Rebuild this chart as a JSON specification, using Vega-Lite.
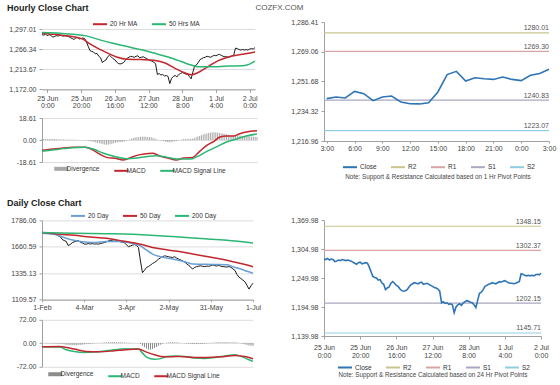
{
"$schema": "https://vega.github.io/schema/vega-lite/v6.json",
"padding": {"left": 3, "top": 4, "right": 2, "bottom": 0},
"background": "white",
"title": {"text": "COZFX.COM", "anchor": "middle", "offset": -8, "fontSize": 8, "fontWeight": "normal", "color": "#555"},
"config": {
  "font": "Liberation Sans",
  "view": {"stroke": null},
  "axis": {"labelFontSize": 7, "labelColor": "#444", "domainColor": "#a0a0a0", "tickColor": "#a0a0a0", "gridColor": "#dcdcdc", "tickSize": 3, "labelPadding": 2, "labelOverlap": false, "tickCount": 20},
  "legend": {"labelFontSize": 6.5, "labelColor": "#333", "symbolType": "stroke", "symbolSize": 196, "symbolStrokeWidth": 2, "columnPadding": 10, "labelOffset": 2, "orient": "none", "direction": "horizontal", "padding": 0}
},
"resolve": {"scale": {"color": "independent"}, "legend": {"color": "independent"}},
"datasets": {
"hourly": [
{"i":0,"c":1286,"d":0.9},{"i":1,"c":1285,"d":0.9},{"i":2,"c":1287,"d":0.9},{"i":3,"c":1284,"d":0.8},{"i":4,"c":1286,"d":0.9},{"i":5,"c":1285,"d":0.9},{"i":6,"c":1281,"d":0.9},{"i":7,"c":1282,"d":0.8},{"i":8,"c":1284,"d":0.7},{"i":9,"c":1283,"d":0.6},
{"i":10,"c":1285,"d":0.6},{"i":11,"c":1284,"d":0.5},{"i":12,"c":1283,"d":0.5},{"i":13,"c":1284,"d":0.4},{"i":14,"c":1283,"d":0.4},{"i":15,"c":1282,"d":0.3},{"i":16,"c":1280,"d":0.3},{"i":17,"c":1278,"d":0.3},{"i":18,"c":1276,"d":0.2},{"i":19,"c":1279,"d":0.2},
{"i":20,"c":1280,"d":0.1},{"i":21,"c":1277,"d":0.1},{"i":22,"c":1278,"d":0},{"i":23,"c":1279,"d":0},{"i":24,"c":1278,"d":0},{"i":25,"c":1271,"d":-0.3},{"i":26,"c":1262,"d":-0.7},{"i":27,"c":1253,"d":-1.0},{"i":28,"c":1251,"d":-1.3},{"i":29,"c":1250,"d":-1.7},
{"i":30,"c":1246,"d":-2.1},{"i":31,"c":1247,"d":-2.5},{"i":32,"c":1241,"d":-2.8},{"i":33,"c":1238,"d":-3.1},{"i":34,"c":1228,"d":-3.5},{"i":35,"c":1231,"d":-3.8},{"i":36,"c":1233,"d":-4.0},{"i":37,"c":1240,"d":-3.9},{"i":38,"c":1243,"d":-3.6},{"i":39,"c":1240,"d":-3.2},
{"i":40,"c":1236,"d":-2.8},{"i":41,"c":1234,"d":-2.4},{"i":42,"c":1229,"d":-2.1},{"i":43,"c":1226,"d":-1.9},{"i":44,"c":1225,"d":-1.8},{"i":45,"c":1226,"d":-1.6},{"i":46,"c":1228,"d":-1.2},{"i":47,"c":1233,"d":-0.6},{"i":48,"c":1237,"d":0},{"i":49,"c":1239,"d":0.6},
{"i":50,"c":1241,"d":1.2},{"i":51,"c":1240,"d":1.7},{"i":52,"c":1239,"d":2.1},{"i":53,"c":1241,"d":2.3},{"i":54,"c":1242,"d":2.5},{"i":55,"c":1238,"d":2.7},{"i":56,"c":1239,"d":2.8},{"i":57,"c":1240,"d":2.8},{"i":58,"c":1238,"d":2.7},{"i":59,"c":1236,"d":2.6},
{"i":60,"c":1234,"d":2.4},{"i":61,"c":1232,"d":2.2},{"i":62,"c":1231,"d":1.8},{"i":63,"c":1229,"d":1.2},{"i":64,"c":1225,"d":0.6},{"i":65,"c":1203,"d":0.1},{"i":66,"c":1205,"d":-0.3},{"i":67,"c":1202,"d":-0.6},{"i":68,"c":1203,"d":-1.0},{"i":69,"c":1200,"d":-1.4},
{"i":70,"c":1201,"d":-1.7},{"i":71,"c":1199,"d":-1.9},{"i":72,"c":1184,"d":-1.8},{"i":73,"c":1195,"d":-1.5},{"i":74,"c":1199,"d":-1.1},{"i":75,"c":1201,"d":-0.8},{"i":76,"c":1198,"d":-0.4},{"i":77,"c":1203,"d":0},{"i":78,"c":1205,"d":0.4},{"i":79,"c":1207,"d":0.8},
{"i":80,"c":1206,"d":0.9},{"i":81,"c":1204,"d":1.0},{"i":82,"c":1203,"d":1.0},{"i":83,"c":1199,"d":1.1},{"i":84,"c":1194,"d":1.1},{"i":85,"c":1208,"d":1.6},{"i":86,"c":1221,"d":2.3},{"i":87,"c":1223,"d":3.0},{"i":88,"c":1228,"d":3.5},{"i":89,"c":1234,"d":4.1},
{"i":90,"c":1236,"d":4.7},{"i":91,"c":1238,"d":5.2},{"i":92,"c":1239,"d":5.6},{"i":93,"c":1241,"d":5.9},{"i":94,"c":1240,"d":6.2},{"i":95,"c":1239,"d":6.4},{"i":96,"c":1241,"d":6.5},{"i":97,"c":1243,"d":6.4},{"i":98,"c":1242,"d":6.2},{"i":99,"c":1244,"d":6.0},
{"i":100,"c":1245,"d":5.7},{"i":101,"c":1243,"d":5.4},{"i":102,"c":1241,"d":5.1},{"i":103,"c":1240,"d":4.8},{"i":104,"c":1240,"d":4.4},{"i":105,"c":1239,"d":4.0},{"i":106,"c":1240,"d":3.6},{"i":107,"c":1242,"d":3.5},{"i":108,"c":1243,"d":3.6},{"i":109,"c":1258,"d":3.8},
{"i":110,"c":1257,"d":3.9},{"i":111,"c":1255,"d":3.7},{"i":112,"c":1254,"d":3.5},{"i":113,"c":1255,"d":3.4},{"i":114,"c":1254,"d":3.3},{"i":115,"c":1255,"d":3.2},{"i":116,"c":1254,"d":3.0},{"i":117,"c":1256,"d":2.9},{"i":118,"c":1257,"d":2.8},{"i":119,"c":1256,"d":2.7},
{"i":120,"c":1259,"d":2.6}
],
"hma": [
{"i":0,"s":"20 Hr MA","v":1288.2},{"i":10,"s":"20 Hr MA","v":1285.5},{"i":18,"s":"20 Hr MA","v":1281.5},{"i":23,"s":"20 Hr MA","v":1276.7},{"i":27,"s":"20 Hr MA","v":1266.6},{"i":32,"s":"20 Hr MA","v":1256.5},{"i":37,"s":"20 Hr MA","v":1247.7},{"i":42,"s":"20 Hr MA","v":1239.6},{"i":48,"s":"20 Hr MA","v":1234.8},{"i":56,"s":"20 Hr MA","v":1234.2},{"i":63,"s":"20 Hr MA","v":1232.8},{"i":69,"s":"20 Hr MA","v":1227.4},{"i":75,"s":"20 Hr MA","v":1215.9},{"i":80,"s":"20 Hr MA","v":1207.1},{"i":84,"s":"20 Hr MA","v":1202.4},{"i":88,"s":"20 Hr MA","v":1207.1},{"i":94,"s":"20 Hr MA","v":1220.6},{"i":99,"s":"20 Hr MA","v":1231.5},{"i":105,"s":"20 Hr MA","v":1239.6},{"i":113,"s":"20 Hr MA","v":1245.0},{"i":120,"s":"20 Hr MA","v":1249.7},
{"i":0,"s":"50 Hrs MA","v":1290.3},{"i":10,"s":"50 Hrs MA","v":1288.9},{"i":18,"s":"50 Hrs MA","v":1286.9},{"i":25,"s":"50 Hrs MA","v":1283.5},{"i":33,"s":"50 Hrs MA","v":1274.7},{"i":40,"s":"50 Hrs MA","v":1268.0},{"i":48,"s":"50 Hrs MA","v":1261.2},{"i":56,"s":"50 Hrs MA","v":1254.4},{"i":63,"s":"50 Hrs MA","v":1247.7},{"i":71,"s":"50 Hrs MA","v":1239.6},{"i":78,"s":"50 Hrs MA","v":1230.8},{"i":84,"s":"50 Hrs MA","v":1222.7},{"i":88,"s":"50 Hrs MA","v":1219.3},{"i":94,"s":"50 Hrs MA","v":1219.3},{"i":99,"s":"50 Hrs MA","v":1219.3},{"i":105,"s":"50 Hrs MA","v":1220.6},{"i":113,"s":"50 Hrs MA","v":1221.3},{"i":117,"s":"50 Hrs MA","v":1224.7},{"i":120,"s":"50 Hrs MA","v":1230.8}
],
"hmacd": [
{"i":0,"s":"MACD","v":-8.7},{"i":6,"s":"MACD","v":-7.6},{"i":12,"s":"MACD","v":-6.8},{"i":17,"s":"MACD","v":-6.2},{"i":24,"s":"MACD","v":-6.2},{"i":29,"s":"MACD","v":-9.0},{"i":32,"s":"MACD","v":-11.8},{"i":36,"s":"MACD","v":-14.7},{"i":42,"s":"MACD","v":-15.8},{"i":45,"s":"MACD","v":-16.9},{"i":49,"s":"MACD","v":-15.2},{"i":53,"s":"MACD","v":-13.0},{"i":57,"s":"MACD","v":-11.8},{"i":62,"s":"MACD","v":-11.3},{"i":66,"s":"MACD","v":-13.8},{"i":70,"s":"MACD","v":-15.2},{"i":75,"s":"MACD","v":-16.9},{"i":79,"s":"MACD","v":-15.2},{"i":84,"s":"MACD","v":-14.7},{"i":88,"s":"MACD","v":-9.6},{"i":92,"s":"MACD","v":-4.5},{"i":96,"s":"MACD","v":-1.1},{"i":99,"s":"MACD","v":2.3},{"i":103,"s":"MACD","v":3.4},{"i":107,"s":"MACD","v":3.4},{"i":110,"s":"MACD","v":5.1},{"i":114,"s":"MACD","v":6.8},{"i":120,"s":"MACD","v":7.9},
{"i":0,"s":"MACD Signal Line","v":-9.6},{"i":6,"s":"MACD Signal Line","v":-8.5},{"i":12,"s":"MACD Signal Line","v":-7.3},{"i":17,"s":"MACD Signal Line","v":-6.5},{"i":24,"s":"MACD Signal Line","v":-6.2},{"i":29,"s":"MACD Signal Line","v":-7.9},{"i":34,"s":"MACD Signal Line","v":-11.0},{"i":40,"s":"MACD Signal Line","v":-13.8},{"i":47,"s":"MACD Signal Line","v":-15.8},{"i":53,"s":"MACD Signal Line","v":-15.2},{"i":58,"s":"MACD Signal Line","v":-14.1},{"i":64,"s":"MACD Signal Line","v":-13.3},{"i":70,"s":"MACD Signal Line","v":-14.7},{"i":75,"s":"MACD Signal Line","v":-16.1},{"i":81,"s":"MACD Signal Line","v":-16.1},{"i":84,"s":"MACD Signal Line","v":-15.8},{"i":88,"s":"MACD Signal Line","v":-13.0},{"i":92,"s":"MACD Signal Line","v":-9.6},{"i":98,"s":"MACD Signal Line","v":-5.4},{"i":103,"s":"MACD Signal Line","v":-1.7},{"i":109,"s":"MACD Signal Line","v":1.1},{"i":114,"s":"MACD Signal Line","v":3.4},{"i":120,"s":"MACD Signal Line","v":5.1}
],
"daily": [
{"i":0,"c":1676,"d":-0.3},{"i":1,"c":1678,"d":-0.5},{"i":2,"c":1675,"d":-0.6},{"i":3,"c":1677,"d":-0.8},{"i":4,"c":1673,"d":-1},{"i":5,"c":1672,"d":-1.2},{"i":6,"c":1668,"d":-1.5},{"i":7,"c":1666,"d":-1.8},{"i":8,"c":1655,"d":-2},{"i":9,"c":1648,"d":-2.2},
{"i":10,"c":1625,"d":-3},{"i":11,"c":1614,"d":-4},{"i":12,"c":1608,"d":-5},{"i":13,"c":1572,"d":-5.5},{"i":14,"c":1580,"d":-6},{"i":15,"c":1595,"d":-6.5},{"i":16,"c":1603,"d":-6.8},{"i":17,"c":1608,"d":-6.5},{"i":18,"c":1616,"d":-6},{"i":19,"c":1600,"d":-5.5},
{"i":20,"c":1594,"d":-5},{"i":21,"c":1585,"d":-4},{"i":22,"c":1583,"d":-3},{"i":23,"c":1588,"d":-2.5},{"i":24,"c":1585,"d":-2},{"i":25,"c":1588,"d":-1.5},{"i":26,"c":1584,"d":-1},{"i":27,"c":1586,"d":-0.5},{"i":28,"c":1583,"d":0},{"i":29,"c":1588,"d":0.5},
{"i":30,"c":1592,"d":1},{"i":31,"c":1597,"d":1.5},{"i":32,"c":1603,"d":2},{"i":33,"c":1610,"d":2.5},{"i":34,"c":1616,"d":2.8},{"i":35,"c":1612,"d":3},{"i":36,"c":1608,"d":3},{"i":37,"c":1612,"d":2.8},{"i":38,"c":1608,"d":2.5},{"i":39,"c":1604,"d":2.2},
{"i":40,"c":1600,"d":2},{"i":41,"c":1596,"d":1.5},{"i":42,"c":1578,"d":1.2},{"i":43,"c":1562,"d":1},{"i":44,"c":1568,"d":0.6},{"i":45,"c":1574,"d":0.3},{"i":46,"c":1580,"d":0},{"i":47,"c":1573,"d":0},{"i":48,"c":1555,"d":0},{"i":49,"c":1440,"d":-3},
{"i":50,"c":1340,"d":-8},{"i":51,"c":1360,"d":-13},{"i":52,"c":1385,"d":-17},{"i":53,"c":1392,"d":-20},{"i":54,"c":1405,"d":-20},{"i":55,"c":1418,"d":-18},{"i":56,"c":1428,"d":-15},{"i":57,"c":1440,"d":-12},{"i":58,"c":1456,"d":-8},{"i":59,"c":1466,"d":-5},
{"i":60,"c":1476,"d":-2},{"i":61,"c":1484,"d":0},{"i":62,"c":1480,"d":1},{"i":63,"c":1476,"d":2},{"i":64,"c":1472,"d":2.4},{"i":65,"c":1470,"d":2.5},{"i":66,"c":1476,"d":2.2},{"i":67,"c":1465,"d":1.8},{"i":68,"c":1456,"d":1.2},{"i":69,"c":1449,"d":0.5},
{"i":70,"c":1440,"d":0},{"i":71,"c":1432,"d":-0.8},{"i":72,"c":1414,"d":-1.5},{"i":73,"c":1405,"d":-2},{"i":74,"c":1385,"d":-2.5},{"i":75,"c":1372,"d":-2.8},{"i":76,"c":1385,"d":-3},{"i":77,"c":1392,"d":-3},{"i":78,"c":1396,"d":-3},{"i":79,"c":1399,"d":-2.8},
{"i":80,"c":1394,"d":-2.5},{"i":81,"c":1392,"d":-2},{"i":82,"c":1396,"d":-1.5},{"i":83,"c":1394,"d":-0.5},{"i":84,"c":1400,"d":0.3},{"i":85,"c":1406,"d":1},{"i":86,"c":1400,"d":1.5},{"i":87,"c":1397,"d":2},{"i":88,"c":1402,"d":2.2},{"i":89,"c":1395,"d":2.4},
{"i":90,"c":1392,"d":2.5},{"i":91,"c":1390,"d":2.4},{"i":92,"c":1388,"d":2.2},{"i":93,"c":1392,"d":2},{"i":94,"c":1386,"d":1.8},{"i":95,"c":1372,"d":2},{"i":96,"c":1360,"d":2},{"i":97,"c":1325,"d":1.5},{"i":98,"c":1302,"d":0.5},{"i":99,"c":1290,"d":-1},
{"i":100,"c":1276,"d":-2.5},{"i":101,"c":1262,"d":-4},{"i":102,"c":1232,"d":-5.5},{"i":103,"c":1200,"d":-7},{"i":104,"c":1228,"d":-8},{"i":105,"c":1250,"d":-8.3}
],
"dma": [
{"i":0,"s":"20 Day","v":1676},{"i":6,"s":"20 Day","v":1668},{"i":12,"s":"20 Day","v":1634},{"i":19,"s":"20 Day","v":1606},{"i":26,"s":"20 Day","v":1597},{"i":32,"s":"20 Day","v":1606},{"i":39,"s":"20 Day","v":1606},{"i":45,"s":"20 Day","v":1589},{"i":49,"s":"20 Day","v":1569},{"i":52,"s":"20 Day","v":1532},{"i":55,"s":"20 Day","v":1499},{"i":59,"s":"20 Day","v":1476},{"i":62,"s":"20 Day","v":1465},{"i":65,"s":"20 Day","v":1456},{"i":69,"s":"20 Day","v":1442},{"i":72,"s":"20 Day","v":1428},{"i":75,"s":"20 Day","v":1414},{"i":79,"s":"20 Day","v":1412},{"i":85,"s":"20 Day","v":1410},{"i":92,"s":"20 Day","v":1408},{"i":95,"s":"20 Day","v":1391},{"i":99,"s":"20 Day","v":1372},{"i":102,"s":"20 Day","v":1352},{"i":105,"s":"20 Day","v":1335},
{"i":0,"s":"50 Day","v":1682},{"i":9,"s":"50 Day","v":1668},{"i":16,"s":"50 Day","v":1659},{"i":24,"s":"50 Day","v":1645},{"i":32,"s":"50 Day","v":1634},{"i":40,"s":"50 Day","v":1611},{"i":49,"s":"50 Day","v":1583},{"i":55,"s":"50 Day","v":1555},{"i":62,"s":"50 Day","v":1535},{"i":69,"s":"50 Day","v":1518},{"i":75,"s":"50 Day","v":1499},{"i":82,"s":"50 Day","v":1479},{"i":89,"s":"50 Day","v":1456},{"i":95,"s":"50 Day","v":1434},{"i":100,"s":"50 Day","v":1414},{"i":105,"s":"50 Day","v":1391},
{"i":0,"s":"200 Day","v":1682},{"i":16,"s":"200 Day","v":1676},{"i":32,"s":"200 Day","v":1673},{"i":45,"s":"200 Day","v":1668},{"i":52,"s":"200 Day","v":1662},{"i":65,"s":"200 Day","v":1648},{"i":79,"s":"200 Day","v":1631},{"i":92,"s":"200 Day","v":1617},{"i":105,"s":"200 Day","v":1594}
],
"dmacd": [
{"i":0,"s":"MACD","v":-11.3},{"i":9,"s":"MACD","v":-12.3},{"i":12,"s":"MACD","v":-20.6},{"i":16,"s":"MACD","v":-25.7},{"i":21,"s":"MACD","v":-28.8},{"i":26,"s":"MACD","v":-27.8},{"i":29,"s":"MACD","v":-25.7},{"i":36,"s":"MACD","v":-20.6},{"i":41,"s":"MACD","v":-17.5},{"i":46,"s":"MACD","v":-18.5},{"i":48,"s":"MACD","v":-18.5},{"i":50,"s":"MACD","v":-30.9},{"i":52,"s":"MACD","v":-43.2},{"i":56,"s":"MACD","v":-50},{"i":59,"s":"MACD","v":-48},{"i":62,"s":"MACD","v":-41.1},{"i":66,"s":"MACD","v":-40.1},{"i":71,"s":"MACD","v":-41.1},{"i":76,"s":"MACD","v":-46.3},{"i":81,"s":"MACD","v":-47.3},{"i":86,"s":"MACD","v":-44.2},{"i":91,"s":"MACD","v":-40.1},{"i":96,"s":"MACD","v":-36.0},{"i":99,"s":"MACD","v":-41.1},{"i":103,"s":"MACD","v":-51.4},{"i":105,"s":"MACD","v":-56.6},
{"i":0,"s":"MACD Signal Line","v":-11.3},{"i":9,"s":"MACD Signal Line","v":-10.3},{"i":16,"s":"MACD Signal Line","v":-18.5},{"i":22,"s":"MACD Signal Line","v":-25.7},{"i":29,"s":"MACD Signal Line","v":-26.7},{"i":36,"s":"MACD Signal Line","v":-23.7},{"i":42,"s":"MACD Signal Line","v":-20.6},{"i":48,"s":"MACD Signal Line","v":-18.5},{"i":52,"s":"MACD Signal Line","v":-27.8},{"i":56,"s":"MACD Signal Line","v":-36.0},{"i":59,"s":"MACD Signal Line","v":-41.1},{"i":64,"s":"MACD Signal Line","v":-42.2},{"i":69,"s":"MACD Signal Line","v":-41.1},{"i":76,"s":"MACD Signal Line","v":-44.2},{"i":82,"s":"MACD Signal Line","v":-44.2},{"i":89,"s":"MACD Signal Line","v":-42.2},{"i":96,"s":"MACD Signal Line","v":-38.1},{"i":99,"s":"MACD Signal Line","v":-40.1},{"i":103,"s":"MACD Signal Line","v":-44.2},{"i":105,"s":"MACD Signal Line","v":-48.3}
],
"p1": [
{"h":0,"c":1241.7},{"h":1,"c":1242.6},{"h":2,"c":1242.1},{"h":3,"c":1245.9},{"h":4,"c":1244.6},{"h":5,"c":1240.5},{"h":6,"c":1242.6},{"h":7,"c":1243.2},{"h":8,"c":1239.7},{"h":9,"c":1238.7},{"h":10,"c":1238.6},{"h":11,"c":1239.3},{"h":12,"c":1245.6},{"h":13,"c":1255.7},{"h":14,"c":1257.6},{"h":15,"c":1252.0},{"h":16,"c":1253.9},{"h":17,"c":1253.3},{"h":18,"c":1252.9},{"h":19,"c":1254.3},{"h":20,"c":1252.9},{"h":21,"c":1252.2},{"h":22,"c":1255.3},{"h":23,"c":1256.3},{"h":24,"c":1258.8}
],
"lv1": [{"s":"R2","v":1280.01},{"s":"R1","v":1269.30},{"s":"S1","v":1240.83},{"s":"S2","v":1223.07}],
"lv2": [{"s":"R2","v":1348.15},{"s":"R1","v":1302.37},{"s":"S1","v":1202.15},{"s":"S2","v":1145.71}]
},
"hconcat": [
 {"resolve": {"scale": {"color": "independent"}, "legend": {"color": "independent"}},
  "vconcat": [
  {"resolve": {"scale": {"color": "independent"}, "legend": {"color": "independent"}},
   "vconcat": [
   {"width": 213, "height": 67.4,
    "title": {"text": "Hourly Close Chart", "anchor": "start", "frame": "group", "dx": -35, "offset": 3, "fontSize": 9, "fontWeight": "bold", "color": "#222"},
    "layer": [
     {"data": {"name": "hourly"}, "mark": {"type": "line", "color": "#1a1a1a", "strokeWidth": 1},
      "encoding": {
       "x": {"field": "i", "type": "quantitative", "title": null, "scale": {"domain": [0, 120], "nice": false},
             "axis": {"values": [3, 22, 41, 60, 79, 98, 117], "tickCount": 20, "labelExpr": "[['25 Jun','0:00'],['25 Jun','20:00'],['26 Jun','16:00'],['27 Jun','12:00'],['28 Jun','8:00'],['1 Jul','4:00'],['2 Jul','0:00']][round((datum.value-3)/19)]", "grid": false, "labelFlush": false, "labelOverlap": false, "labelLineHeight": 7.4, "tickSize": 3, "labelPadding": 2}},
       "y": {"field": "c", "type": "quantitative", "title": null, "scale": {"domain": [1172, 1312.4], "nice": false, "zero": false},
             "axis": {"values": [1172, 1213.67, 1255.34, 1297.01], "tickCount": 20, "labelExpr": "['1,172.00','1,213.67','1,266.34','1,297.01'][round((datum.value-1172)/41.67)]", "grid": true, "domain": false, "labelOverlap": false, "minExtent": 39, "tickSize": 3, "labelPadding": 3}}
      }},
     {"mark": {"type": "rule", "color": "#a0a0a0", "strokeWidth": 1},
      "encoding": {"x": {"datum": 0}, "y": {"datum": 1297.01}, "y2": {"datum": 1172}}},
     {"data": {"name": "hma"}, "mark": {"type": "line", "strokeWidth": 1.5, "interpolate": "monotone"},
      "encoding": {
       "x": {"field": "i", "type": "quantitative", "title": null},
       "y": {"field": "v", "type": "quantitative", "title": null},
       "color": {"field": "s", "type": "nominal", "scale": {"domain": ["20 Hr MA", "50 Hrs MA"], "range": ["#c1272d", "#2bb673"]},
                 "legend": {"title": null, "orient": "none", "legendX": 50, "legendY": -5.8, "direction": "horizontal"}}
      }}
    ]},
   {"width": 215, "height": 44,
    "layer": [
     {"data": {"name": "hourly"}, "mark": {"type": "rule", "strokeWidth": 1},
      "encoding": {
       "x": {"field": "i", "type": "quantitative", "scale": {"domain": [0, 120], "nice": false}, "axis": null},
       "y": {"field": "d", "type": "quantitative", "title": null, "scale": {"domain": [-18.61, 18.61], "nice": false},
             "axis": {"values": [-18.61, 0, 18.61], "tickCount": 20, "labelExpr": "['-18.61','0.00','18.61'][round(datum.value/18.61)+1]", "grid": true, "labelOverlap": false, "minExtent": 39, "tickSize": 3, "labelPadding": 3}},
       "y2": {"datum": 0},
       "color": {"datum": "Divergence", "type": "nominal", "title": null, "scale": {"domain": ["Divergence", "MACD", "MACD Signal Line"], "range": ["#a8a8a8", "#c1272d", "#2bb673"]},
                 "legend": {"title": null, "orient": "none", "legendX": 16, "legendY": 47.2, "direction": "horizontal",
                            "encode": {"symbols": {"update": {"strokeWidth": {"signal": "datum.value === 'Divergence' ? 4 : 2"}}}}}}
      }},
     {"data": {"name": "hmacd"}, "mark": {"type": "line", "strokeWidth": 1.5, "interpolate": "monotone"},
      "encoding": {
       "x": {"field": "i", "type": "quantitative"},
       "y": {"field": "v", "type": "quantitative", "title": null},
       "color": {"field": "s", "type": "nominal", "title": null, "legend": {"title": null}}
      }}
    ]}
  ], "spacing": 5},
  {"resolve": {"scale": {"color": "independent"}, "legend": {"color": "independent"}},
   "vconcat": [
   {"width": 211, "height": 79.3,
    "title": {"text": "Daily Close Chart", "anchor": "start", "frame": "group", "dx": -35, "offset": 0, "fontSize": 9, "fontWeight": "bold", "color": "#222"},
    "layer": [
     {"data": {"name": "daily"}, "mark": {"type": "line", "color": "#1a1a1a", "strokeWidth": 1},
      "encoding": {
       "x": {"field": "i", "type": "quantitative", "title": null, "scale": {"domain": [0, 105], "nice": false},
             "axis": {"values": [0, 21, 42, 63, 84, 105], "tickCount": 20, "labelExpr": "['1-Feb','4-Mar','3-Apr','2-May','31-May','1-Jul'][round(datum.value/21)]", "grid": false, "labelFlush": false, "labelOverlap": false, "tickSize": 2, "labelPadding": 2}},
       "y": {"field": "c", "type": "quantitative", "title": null, "scale": {"domain": [1109.57, 1786.06], "nice": false, "zero": false},
             "axis": {"values": [1109.57, 1335.07, 1560.56, 1786.06], "tickCount": 20, "labelExpr": "['1109.57','1335.13','1660.59','1786.06'][round((datum.value-1109.57)/225.5)]", "grid": true, "labelOverlap": false, "minExtent": 39, "tickSize": 3, "labelPadding": 3}}
      }},
     {"data": {"name": "dma"}, "mark": {"type": "line", "strokeWidth": 1.5, "interpolate": "monotone"},
      "encoding": {
       "x": {"field": "i", "type": "quantitative", "title": null},
       "y": {"field": "v", "type": "quantitative", "title": null},
       "color": {"field": "s", "type": "nominal", "scale": {"domain": ["20 Day", "50 Day", "200 Day"], "range": ["#6a9fd4", "#c1272d", "#2bb673"]},
                 "legend": {"title": null, "orient": "none", "legendX": 28, "legendY": -12.5, "direction": "horizontal"}}
      }}
    ]},
   {"width": 211, "height": 46.6,
    "layer": [
     {"data": {"name": "daily"}, "mark": {"type": "rule", "strokeWidth": 1},
      "encoding": {
       "x": {"field": "i", "type": "quantitative", "scale": {"domain": [0, 105], "nice": false}, "axis": null},
       "y": {"field": "d", "type": "quantitative", "title": null, "scale": {"domain": [-72, 72], "nice": false},
             "axis": {"values": [-72, 0, 72], "tickCount": 20, "labelExpr": "['-72.00','0.00','72.00'][round(datum.value/72)+1]", "grid": true, "labelOverlap": false, "minExtent": 39, "tickSize": 3, "labelPadding": 3}},
       "y2": {"datum": 0},
       "color": {"datum": "Divergence", "type": "nominal", "title": null, "scale": {"domain": ["Divergence", "MACD", "MACD Signal Line"], "range": ["#8c8c8c", "#2bb673", "#c1272d"]},
                 "legend": {"title": null, "orient": "none", "legendX": 10, "legendY": 50.8, "direction": "horizontal",
                            "encode": {"symbols": {"update": {"strokeWidth": {"signal": "datum.value === 'Divergence' ? 4 : 2"}}}}}}
      }},
     {"data": {"name": "dmacd"}, "mark": {"type": "line", "strokeWidth": 1.5, "interpolate": "monotone"},
      "encoding": {
       "x": {"field": "i", "type": "quantitative"},
       "y": {"field": "v", "type": "quantitative", "title": null},
       "color": {"field": "s", "type": "nominal", "title": null, "legend": {"title": null}}
      }}
    ]}
  ], "spacing": 4.4}
 ], "spacing": 20.4},
 {"resolve": {"scale": {"color": "independent"}, "legend": {"color": "independent"}},
  "vconcat": [
  {"width": 225, "height": 119,
   "layer": [
    {"data": {"name": "lv1"}, "mark": {"type": "rule", "strokeWidth": 1.2},
     "encoding": {
      "y": {"field": "v", "type": "quantitative", "title": null, "scale": {"domain": [1216.96, 1286.41], "nice": false, "zero": false},
            "axis": {"values": [1216.96, 1234.32, 1251.69, 1269.05, 1286.41], "tickCount": 20, "labelExpr": "['1,216.96','1,234.32','1,251.68','1,269.06','1,286.41'][round((datum.value-1216.96)/17.3625)]", "grid": false, "labelOverlap": false, "minExtent": 35, "tickSize": 3, "labelPadding": 3}},
      "color": {"field": "s", "type": "nominal", "scale": {"domain": ["Close", "R2", "R1", "S1", "S2"], "range": ["#2e75b6", "#c8c48c", "#dba4a4", "#a8a8c0", "#8fcde0"]},
                "legend": {"title": "Note: Support & Resistance Calculated based on 1 Hr Pivot Points", "titleOrient": "bottom", "titleAnchor": "middle", "titleFontSize": 6.3, "titleFontWeight": "normal", "titleColor": "#444", "titlePadding": 3, "titleLimit": 400, "orient": "none", "legendX": 18, "legendY": 137.2, "direction": "horizontal"}}
     }},
    {"data": {"name": "p1"}, "mark": {"type": "line", "strokeWidth": 1.6},
     "encoding": {
      "x": {"field": "h", "type": "quantitative", "title": null, "scale": {"domain": [-0.3, 24], "nice": false},
            "axis": {"values": [0, 3, 6, 9, 12, 15, 18, 21, 24], "tickCount": 20, "labelExpr": "['3:00','6:00','9:00','12:00','15:00','18:00','21:00','0:00','3:00'][round(datum.value/3)]", "grid": false, "labelFlush": false, "labelOverlap": false, "tickSize": 2, "labelPadding": 1}},
      "y": {"field": "c", "type": "quantitative", "title": null},
      "color": {"datum": "Close", "type": "nominal"}
     }},
    {"data": {"name": "lv1"}, "mark": {"type": "text", "align": "right", "baseline": "bottom", "dy": -1.5, "fontSize": 7, "color": "#555"},
     "encoding": {
      "x": {"datum": 24},
      "y": {"field": "v", "type": "quantitative"},
      "text": {"field": "v", "type": "quantitative", "format": ".2f"}
     }}
   ]},
  {"width": 217, "height": 116,
   "layer": [
    {"data": {"name": "lv2"}, "mark": {"type": "rule", "strokeWidth": 1.2},
     "encoding": {
      "y": {"field": "v", "type": "quantitative", "title": null, "scale": {"domain": [1139.98, 1359.98], "nice": false, "zero": false},
            "axis": {"values": [1139.98, 1194.98, 1249.98, 1304.98, 1359.98], "tickCount": 20, "labelExpr": "['1,139.98','1,194.98','1,249.98','1,304.98','1,369.98'][round((datum.value-1139.98)/55)]", "grid": false, "labelOverlap": false, "minExtent": 35, "tickSize": 3, "labelPadding": 3}},
      "color": {"field": "s", "type": "nominal", "scale": {"domain": ["Close", "R2", "R1", "S1", "S2"], "range": ["#2e75b6", "#c8c48c", "#dba4a4", "#a8a8c0", "#8fcde0"]},
                "legend": {"title": "Note: Support & Resistance Calculated based on 24 Hr Pivot Points", "titleOrient": "bottom", "titleAnchor": "middle", "titleFontSize": 6.3, "titleFontWeight": "normal", "titleColor": "#444", "titlePadding": 0, "titleLimit": 400, "orient": "none", "legendX": 13, "legendY": 139.5, "direction": "horizontal"}}
     }},
    {"data": {"name": "hourly"}, "mark": {"type": "line", "strokeWidth": 1.6},
     "encoding": {
      "x": {"field": "i", "type": "quantitative", "title": null, "scale": {"domain": [0, 120], "nice": false},
            "axis": {"values": [0, 20, 40, 60, 80, 100, 120], "tickCount": 20, "labelExpr": "[['25 Jun','0:00'],['25 Jun','20:00'],['26 Jun','16:00'],['27 Jun','12:00'],['28 Jun','8:00'],['1 Jul','4:00'],['2 Jul','0:00']][round(datum.value/20)]", "grid": false, "labelFlush": false, "labelOverlap": false, "labelLineHeight": 8.5, "tickSize": 3, "labelPadding": 4}},
      "y": {"field": "c", "type": "quantitative", "title": null},
      "color": {"datum": "Close", "type": "nominal"}
     }},
    {"data": {"name": "lv2"}, "mark": {"type": "text", "align": "right", "baseline": "bottom", "dy": -1.5, "fontSize": 7, "color": "#555"},
     "encoding": {
      "x": {"datum": 120},
      "y": {"field": "v", "type": "quantitative"},
      "text": {"field": "v", "type": "quantitative", "format": ".2f"}
     }}
   ]}
 ], "spacing": 34}
],
"spacing": 28
}
